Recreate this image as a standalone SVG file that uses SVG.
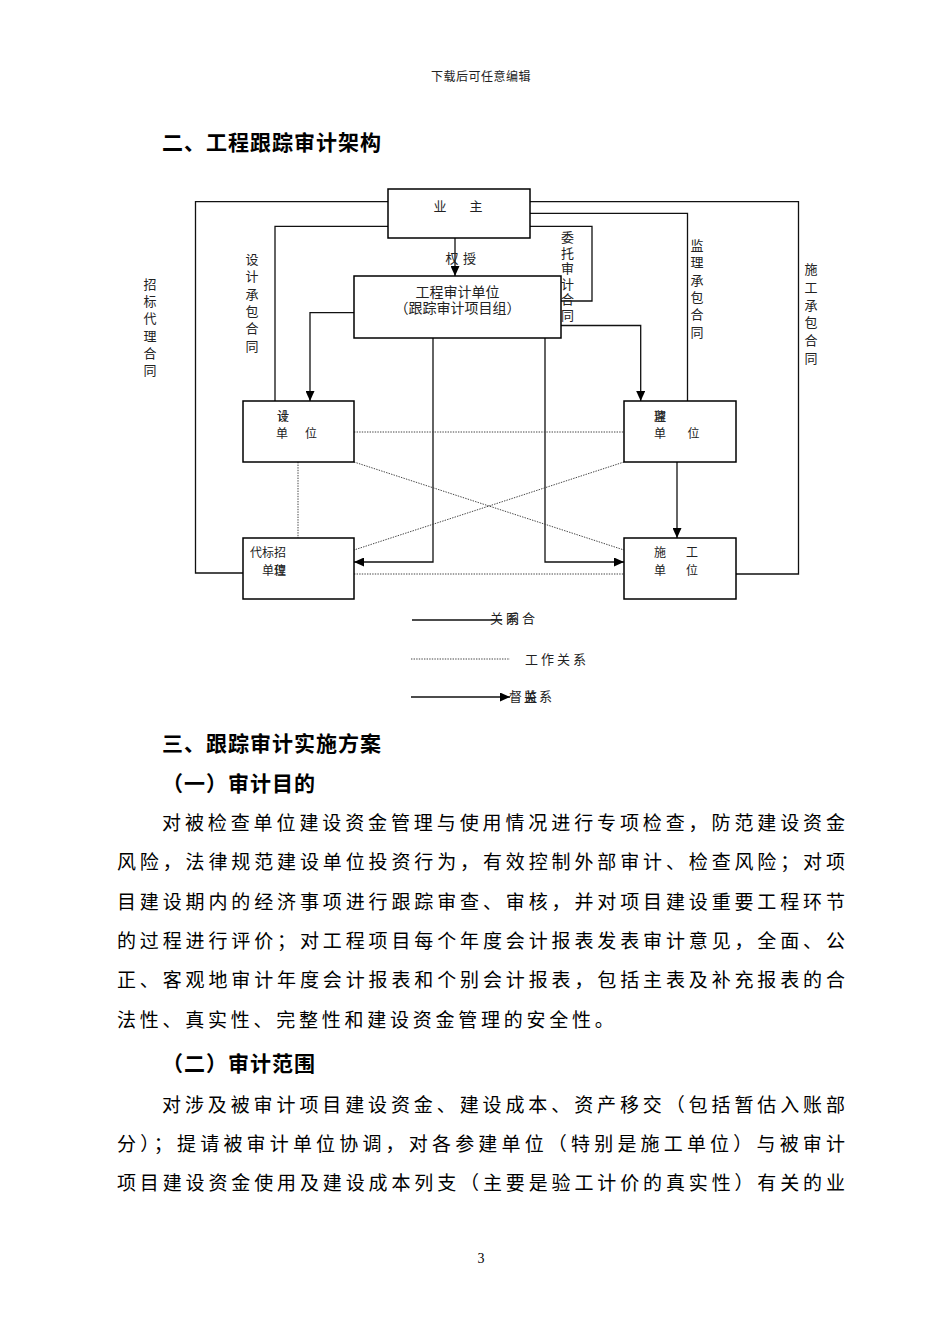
<svg xmlns="http://www.w3.org/2000/svg" width="950" height="1344" viewBox="0 0 950 1344">
<style>
.bg{fill:#fff}
.box{fill:#fff;stroke:#000;stroke-width:1.5}
.ln{fill:none;stroke:#111;stroke-width:1.3}
.dot{fill:none;stroke:#444;stroke-width:1;stroke-dasharray:1.4 1.2}
.t{font-family:"Noto Sans CJK SC","Noto Sans CJK JP",sans-serif;font-size:12px;fill:#222}
.m{text-anchor:middle}
.l13{font-size:13px}
.l14{font-size:14px}
.hd{font-family:"Noto Sans CJK SC","Noto Sans CJK JP",sans-serif;font-size:21px;font-weight:700;fill:#000;letter-spacing:1px}
.bd{font-family:"Noto Sans CJK SC","Noto Sans CJK JP",sans-serif;font-size:19px;fill:#000}
</style>
<defs>
<marker id="ah" markerUnits="userSpaceOnUse" markerWidth="10" markerHeight="9" refX="10" refY="4.5" orient="auto">
<path d="M0,0 L10,4.5 L0,9 z" fill="#000"/>
</marker>
</defs>
<rect class="bg" x="0" y="0" width="950" height="1344"/>

<text class="t" x="431" y="80.5" style="letter-spacing:0.5px">下载后可任意编辑</text>
<text class="hd" x="162" y="150">二、工程跟踪审计架构</text>

<g id="connectors">
<path class="ln" d="M388,201.7 H195.5 V573 H243"/>
<path class="ln" d="M530,201.7 H798.5 V574 H736"/>
<path class="ln" d="M530,213.3 H687.5 V401"/>
<path class="ln" d="M388,226.3 H275 V401"/>
<path class="ln" d="M530,226.3 H592 V301 H561"/>
<path class="ln" d="M455,238 V276" marker-end="url(#ah)"/>
<path class="ln" d="M354,312.7 H310 V401" marker-end="url(#ah)"/>
<path class="ln" d="M561,325.5 H640.7 V401" marker-end="url(#ah)"/>
<path class="ln" d="M433,338 V562 H354" marker-end="url(#ah)"/>
<path class="ln" d="M545,338 V562 H624" marker-end="url(#ah)"/>
<path class="ln" d="M677,462 V538" marker-end="url(#ah)"/>
<path class="dot" d="M354,432 H624"/>
<path class="dot" d="M298,462 V538"/>
<path class="dot" d="M354,462 L624,550"/>
<path class="dot" d="M624,462 L354,550"/>
<path class="dot" d="M354,574 H624"/>
</g>

<g id="labels">
<text class="t l13 m" x="452" y="263">权</text>
<text class="t l13 m" x="469.5" y="263">授</text>
<text class="t l13 m"><tspan x="252" y="264">设</tspan><tspan x="252" y="281.3">计</tspan><tspan x="252" y="298.6">承</tspan><tspan x="252" y="315.9">包</tspan><tspan x="252" y="333.2">合</tspan><tspan x="252" y="350.5">同</tspan></text>
<text class="t l13 m"><tspan x="150" y="289">招</tspan><tspan x="150" y="306.2">标</tspan><tspan x="150" y="323.4">代</tspan><tspan x="150" y="340.6">理</tspan><tspan x="150" y="357.8">合</tspan><tspan x="150" y="375">同</tspan></text>
<text class="t l13 m"><tspan x="567.5" y="242">委</tspan><tspan x="567.5" y="257.6">托</tspan><tspan x="567.5" y="273.2">审</tspan><tspan x="567.5" y="288.8">计</tspan><tspan x="567.5" y="304.4">合</tspan><tspan x="567.5" y="320">同</tspan></text>
<text class="t l13 m"><tspan x="697" y="250">监</tspan><tspan x="697" y="267.3">理</tspan><tspan x="697" y="284.6">承</tspan><tspan x="697" y="301.9">包</tspan><tspan x="697" y="319.2">合</tspan><tspan x="697" y="336.5">同</tspan></text>
<text class="t l13 m"><tspan x="811" y="274">施</tspan><tspan x="811" y="291.8">工</tspan><tspan x="811" y="309.6">承</tspan><tspan x="811" y="327.4">包</tspan><tspan x="811" y="345.2">合</tspan><tspan x="811" y="363">同</tspan></text>
</g>

<g id="owner">
<rect class="box" x="388" y="189" width="142" height="49"/>
<text class="t l13 m" x="440" y="211">业</text>
<text class="t l13 m" x="476" y="211">主</text>
</g>

<g id="audit">
<rect class="box" x="354" y="276" width="207" height="62"/>
<text class="t l14 m" x="457.5" y="297">工程审计单位</text>
<text class="t l14 m" x="457.5" y="313">（跟踪审计项目组）</text>
</g>

<g id="design">
<rect class="box" x="243" y="401" width="111" height="61"/>
<text class="t m" x="283" y="421">设</text>
<text class="t m" x="283" y="421">计</text>
<text class="t m" x="282" y="437.5">单</text>
<text class="t m" x="311" y="437.5">位</text>
</g>

<g id="supervision">
<rect class="box" x="624" y="401" width="112" height="61"/>
<text class="t m" x="660" y="421">监</text>
<text class="t m" x="660" y="421">理</text>
<text class="t m" x="660" y="437.5">单</text>
<text class="t m" x="693.5" y="437.5">位</text>
</g>

<g id="agent">
<rect class="box" x="243" y="538" width="111" height="61"/>
<text class="t" x="250" y="557">代标招</text>
<text class="t m" x="268" y="574.5">单</text>
<text class="t m" x="280" y="574.5">理</text>
<text class="t m" x="280" y="574.5">位</text>
</g>

<g id="construction">
<rect class="box" x="624" y="538" width="112" height="61"/>
<text class="t m" x="660" y="557">施</text>
<text class="t m" x="692" y="557">工</text>
<text class="t m" x="660" y="575">单</text>
<text class="t m" x="692" y="575">位</text>
</g>

<g id="legend">
<path class="ln" d="M412,620 H502"/>
<text class="t l13" x="490" y="623">关</text>
<text class="t l13" x="506" y="623">同</text>
<text class="t l13" x="506" y="623">系</text>
<text class="t l13" x="522" y="623">合</text>
<path class="dot" d="M411,659 H510"/>
<text class="t l13" x="525" y="664" style="letter-spacing:3px">工作关系</text>
<path class="ln" d="M411,697 H510" marker-end="url(#ah)"/>
<text class="t l13" x="509" y="701">督</text>
<text class="t l13" x="524" y="701">监</text>
<text class="t l13" x="524" y="701">关</text>
<text class="t l13" x="539" y="701">系</text>
</g>

<text class="hd" x="162" y="751">三、跟踪审计实施方案</text>
<text class="hd" x="162" y="791">（一）审计目的</text>
<text class="bd" x="162" y="830" textLength="683" lengthAdjust="spacing">对被检查单位建设资金管理与使用情况进行专项检查，防范建设资金</text>
<text class="bd" x="117" y="869.3" textLength="728" lengthAdjust="spacing">风险，法律规范建设单位投资行为，有效控制外部审计、检查风险；对项</text>
<text class="bd" x="117" y="908.6" textLength="728" lengthAdjust="spacing">目建设期内的经济事项进行跟踪审查、审核，并对项目建设重要工程环节</text>
<text class="bd" x="117" y="948" textLength="728" lengthAdjust="spacing">的过程进行评价；对工程项目每个年度会计报表发表审计意见，全面、公</text>
<text class="bd" x="117" y="987.2" textLength="728" lengthAdjust="spacing">正、客观地审计年度会计报表和个别会计报表，包括主表及补充报表的合</text>
<text class="bd" x="117" y="1026.5" style="letter-spacing:3.75px">法性、真实性、完整性和建设资金管理的安全性。</text>
<text class="hd" x="162" y="1071">（二）审计范围</text>
<text class="bd" x="162" y="1112" textLength="683" lengthAdjust="spacing">对涉及被审计项目建设资金、建设成本、资产移交（包括暂估入账部</text>
<text class="bd" x="117" y="1150.5" textLength="728" lengthAdjust="spacing">分）；提请被审计单位协调，对各参建单位（特别是施工单位）与被审计</text>
<text class="bd" x="117" y="1189.5" textLength="728" lengthAdjust="spacing">项目建设资金使用及建设成本列支（主要是验工计价的真实性）有关的业</text>
<text x="481" y="1263" style="font-family:'Liberation Serif',serif;font-size:14px;fill:#000;text-anchor:middle">3</text>
</svg>
